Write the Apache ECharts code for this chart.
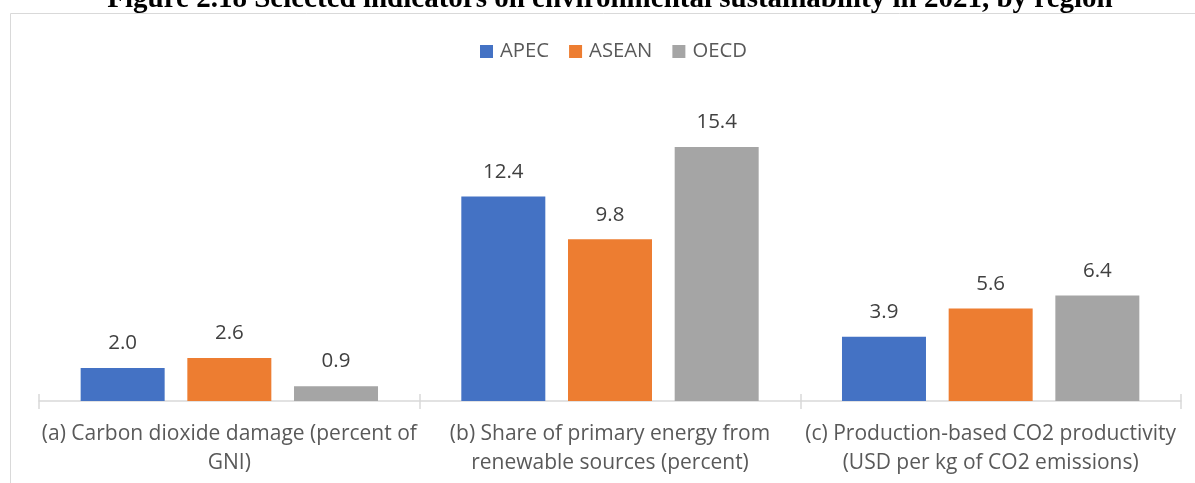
<!DOCTYPE html>
<html>
<head>
<meta charset="utf-8">
<script src="https://cdn.jsdelivr.net/npm/echarts@6/dist/echarts.min.js"></script>
<style>
html,body{margin:0;padding:0;background:#fff;}
#chart{width:1195px;height:483px;}
</style>
</head>
<body>
<div id="chart"></div>
<script>
const titleText = 'Figure 2.18 Selected indicators on environmental sustainability in 2021, by region';
const categories = [
  '(a) Carbon dioxide damage (percent of\nGNI)',
  '(b) Share of primary energy from\nrenewable sources (percent)',
  '(c) Production-based CO2 productivity\n(USD per kg of CO2 emissions)'
];
const seriesNames = ['APEC', 'ASEAN', 'OECD'];
const apec = [2.0, 12.4, 3.9];
const asean = [2.6, 9.8, 5.6];
const oecd = [0.9, 15.4, 6.4];
const colors = ['#4472C4', '#ED7D31', '#A5A5A5'];

const FONT = '"Open Sans"';
const chart = echarts.init(document.getElementById('chart'), null, {renderer: 'canvas'});
const values = [apec, asean, oecd];
chart.setOption({
  animation: false,
  textStyle: {fontFamily: FONT},
  graphic: [
    {type: 'rect', silent: true, z: -1,
     shape: {x: 10.5, y: 13.5, width: 1300, height: 600},
     style: {fill: 'none', stroke: '#D9D9D9', lineWidth: 1}},
    {type: 'text', silent: true,
     style: {text: titleText, x: 610, y: 0, align: 'center', verticalAlign: 'middle',
             font: 'bold 29px "Liberation Serif"', fill: '#000'}}
  ],
  legend: {
    top: 36.5, left: 475,
    icon: 'rect', itemWidth: 13, itemHeight: 13, itemGap: 20,
    textStyle: {fontFamily: FONT, fontSize: 20.3, color: '#595959', padding: [0, 0, 0, 2]},
    data: seriesNames
  },
  grid: {left: 39, right: 14, top: 71, bottom: 82, containLabel: false},
  xAxis: [
    {type: 'category', data: categories, position: 'bottom',
     axisLine: {lineStyle: {color: '#D9D9D9', width: 1.5}},
     axisTick: {show: true, alignWithLabel: false, length: 8, lineStyle: {color: '#D9D9D9', width: 1.5}},
     axisLabel: {fontFamily: FONT, fontSize: 21, color: '#595959', lineHeight: 29, margin: 19, interval: 0}},
    {type: 'category', data: categories, position: 'bottom', offset: 0,
     axisLine: {show: false},
     axisTick: {show: true, inside: true, length: 7, lineStyle: {color: '#D9D9D9', width: 1.5}},
     axisLabel: {show: false}}
  ],
  yAxis: {type: 'value', min: 0, max: 20, show: false, splitLine: {show: false}},
  series: seriesNames.map((name, i) => ({
    name: name, type: 'bar', xAxisIndex: 0,
    data: values[i],
    barWidth: 84, barGap: '27%',
    itemStyle: {color: colors[i]},
    label: {show: true, position: 'top', distance: 14, fontFamily: FONT, fontSize: 20.5, color: '#404040',
            formatter: p => p.value.toFixed(1)}
  }))
});
</script>
</body>
</html>
